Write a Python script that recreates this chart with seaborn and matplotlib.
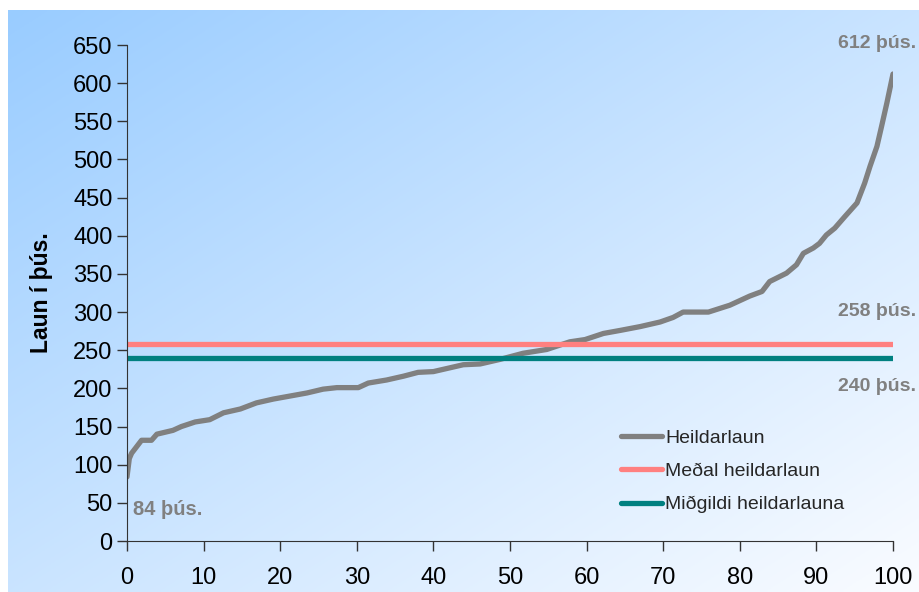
import matplotlib
matplotlib.use('Agg')
import matplotlib.pyplot as plt
import numpy as np
import pandas as pd
import seaborn as sns

# Percentile (x) vs total salary in thousands (y)
percentile = [0, 0.3, 0.6, 1.9, 3.2, 3.9, 6.0, 7.1, 8.9, 10.8, 12.6, 14.8, 16.9, 19.1,
              21.3, 23.5, 25.6, 27.4, 30.2, 31.5, 33.9, 36.1, 38.0, 40.0, 43.9, 46.1,
              48.7, 51.7, 54.8, 57.8, 59.8, 62.2, 64.4, 67.0, 69.6, 71.3, 72.6, 75.9,
              78.7, 81.3, 82.9, 83.9, 86.1, 87.4, 88.3, 89.6, 90.4, 91.3, 92.4, 93.7,
              95.3, 96.3, 97.0, 97.9, 98.5, 99.2, 100]
heildarlaun = [84, 108, 115, 132, 132, 140, 145, 150, 156, 159, 168, 173, 181, 186,
               190, 194, 199, 201, 201, 207, 211, 216, 221, 222, 231, 232,
               238, 246, 251, 261, 264, 272, 276, 281, 287, 293, 300, 300,
               309, 321, 327, 340, 351, 362, 377, 384, 390, 401, 410, 425,
               443, 469, 491, 517, 543, 574, 612]
medal = 258
midgildi = 240
line_x = [0, 100]

labels = ['Heildarlaun', 'Meðal heildarlaun', 'Miðgildi heildarlauna']
colors = ['#808080', '#FF8080', '#008080']

sns.set_style('ticks')
plt.rcParams['font.family'] = ['Liberation Sans', 'DejaVu Sans']

fig = plt.figure(figsize=(9.2, 5.92), dpi=100)

# gradient background
bg = fig.add_axes([8 / 920, 0, 1 - 8 / 920, 1 - 10 / 592], zorder=0)
u, v = np.meshgrid(np.linspace(0, 1, 300), np.linspace(0, 1, 200))
t = np.clip((u + v) / 2, 0, 1)[..., None]
c0 = np.array([153, 204, 255]) / 255
c1 = np.array([250, 252, 255]) / 255
bg.imshow(c0 * (1 - t) + c1 * t, aspect='auto', extent=[0, 1, 0, 1], origin='upper')
bg.axis('off')

ax = fig.add_axes([127 / 920, 51 / 592, (893 - 127) / 920, (541 - 45) / 592], zorder=1)
ax.patch.set_alpha(0)

df = pd.DataFrame({'x': percentile, 'y': heildarlaun})
sns.lineplot(data=df, x='x', y='y', color=colors[0], lw=3.8, ax=ax, label=labels[0])
sns.lineplot(x=line_x, y=[medal] * 2, color=colors[1], lw=3.8, ax=ax, label=labels[1])
sns.lineplot(x=line_x, y=[midgildi] * 2, color=colors[2], lw=3.8, ax=ax, label=labels[2])

ax.set_xlim(0, 100)
ax.set_ylim(0, 650)
ax.set_xticks(range(0, 101, 10))
ax.set_yticks(range(0, 651, 50))
ax.tick_params(labelsize=17, length=7, width=1, color='#333333', labelcolor='black')
ax.tick_params(axis='x', pad=12)
ax.set_xlabel('')
ax.set_ylabel('Laun í þús.', fontsize=16.5, fontweight='bold', labelpad=14, color='black')
for s in ['top', 'right']:
    ax.spines[s].set_visible(False)
for s in ['left', 'bottom']:
    ax.spines[s].set_color('#333333')

txt = dict(color='#808080', fontsize=14, fontweight='bold', ha='center', va='center', clip_on=False)
ax.text(97.9, 652, '612 þús.', **txt)
ax.text(97.9, 301, '258 þús.', **txt)
ax.text(97.9, 203, '240 þús.', **txt)
ax.text(5.3, 41, '84 þús.', fontsize=14.5, **{k: v for k, v in txt.items() if k != 'fontsize'})

ax.legend(loc='upper left', bbox_to_anchor=(604 / 920, 1 - 412 / 592),
          bbox_transform=fig.transFigure, frameon=False, fontsize=14,
          handlelength=2.1, handletextpad=0.15, labelspacing=0.8)

fig.savefig('out.png', dpi=100)
